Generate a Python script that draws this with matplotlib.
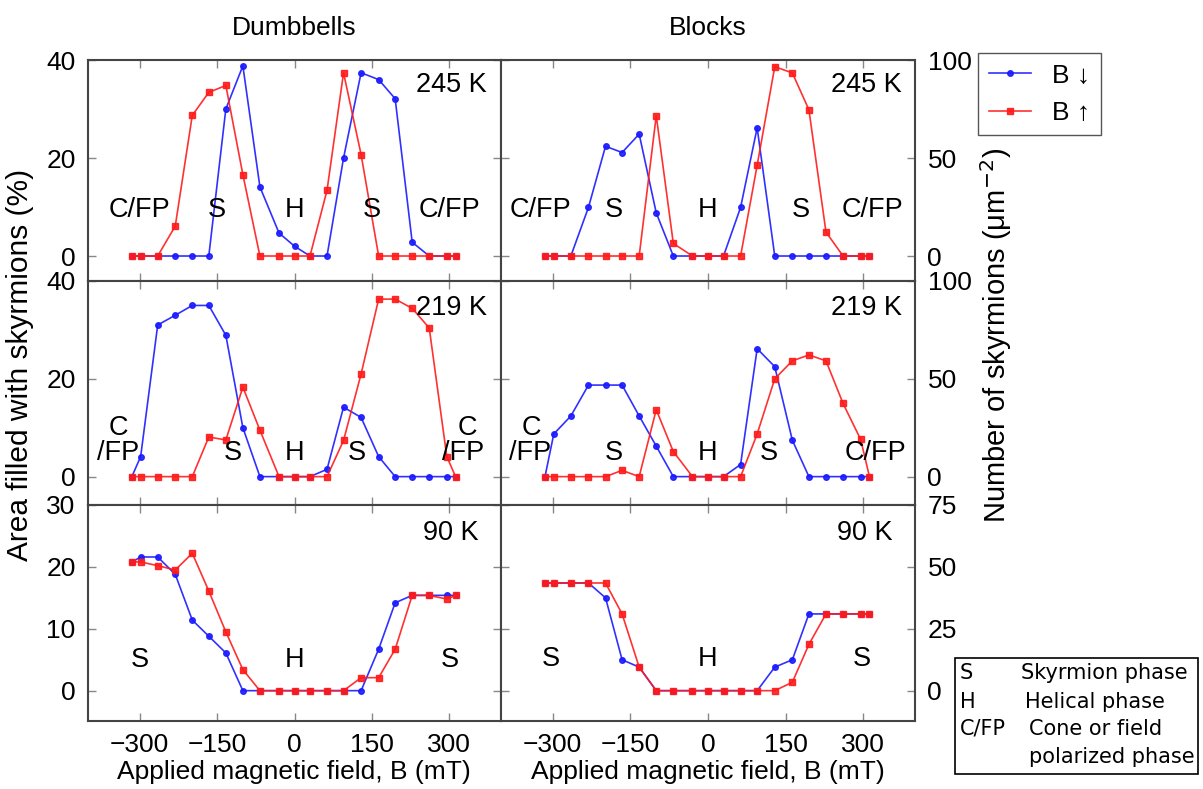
import matplotlib
matplotlib.use("Agg")
import matplotlib.pyplot as plt
from matplotlib.patches import Rectangle

plt.rcParams['font.family'] = ['Liberation Sans', 'DejaVu Sans']
plt.rcParams['font.size'] = 19

# applied field (mT)
field = [-315, -298, -265, -231, -198, -166, -133, -100, -67, -30, 0,
         30, 63, 95, 129, 163, 195, 228, 261, 295, 312]

# Dumbbells, area filled (%)
dumb_245_down = [0, 0, 0, 0, 0, 0, 30.0, 38.8, 14.1, 4.7, 2.0, 0, 0, 20.0, 37.4, 36.0, 32.1, 2.8, 0, 0, 0]
dumb_245_up = [0, 0, 0, 6.1, 28.7, 33.4, 34.8, 16.6, 0, 0, 0, 0, 13.4, 37.4, 20.7, 0, 0, 0, 0, 0, 0]
dumb_219_down = [0, 4.1, 31.0, 33.0, 35.0, 35.0, 28.9, 10.0, 0, 0, 0, 0, 1.5, 14.2, 12.1, 4.1, 0, 0, 0, 0, 0]
dumb_219_up = [0, 0, 0, 0, 0, 8.1, 7.5, 18.3, 9.5, 0, 0, 0, 0, 7.4, 21.0, 36.3, 36.3, 34.4, 30.4, 4.1, 0]
dumb_90_down = [20.8, 21.6, 21.6, 18.8, 11.4, 8.8, 6.1, 0, 0, 0, 0, 0, 0, 0, 0, 6.7, 14.2, 15.4, 15.4, 15.4, 15.4]
dumb_90_up = [20.8, 20.8, 20.2, 19.5, 22.2, 16.1, 9.5, 3.4, 0, 0, 0, 0, 0, 0, 2.1, 2.1, 6.7, 15.4, 15.4, 14.8, 15.4]

# Blocks, number of skyrmions (um^-2)
blocks_245_down = [0, 0, 0, 24.8, 56.0, 52.8, 62.2, 22.0, 0, 0, 0, 0, 24.8, 65.4, 0, 0, 0, 0, 0, 0, 0]
blocks_245_up = [0, 0, 0, 0, 0, 0, 0, 71.6, 6.4, 0, 0, 0, 0, 46.3, 96.6, 93.4, 74.6, 12.2, 0, 0, 0]
blocks_219_down = [0, 21.8, 31.0, 46.8, 46.8, 46.8, 31.0, 15.6, 0, 0, 0, 0, 6.2, 65.4, 56.2, 18.6, 0, 0, 0, 0, 0]
blocks_219_up = [0, 0, 0, 0, 0, 3.2, 0, 34.2, 12.8, 0, 0, 0, 0, 21.8, 50.0, 59.2, 62.2, 59.2, 37.4, 19.0, 0]
blocks_90_down = [43.5, 43.5, 43.5, 43.5, 37.5, 12.5, 9.5, 0, 0, 0, 0, 0, 0, 0, 9.5, 12.5, 31.0, 31.0, 31.0, 31.0, 31.0]
blocks_90_up = [43.5, 43.5, 43.5, 43.5, 43.5, 31.0, 9.5, 0, 0, 0, 0, 0, 0, 0, 0, 3.4, 18.7, 31.0, 31.0, 31.0, 31.0]

temps = ['245 K', '219 K', '90 K']
xticks = [-300, -150, 0, 150, 300]

W, H = 1203, 789


def box(x0, y0, x1, y1):
    return [x0 / W, 1 - y1 / H, (x1 - x0) / W, (y1 - y0) / H]


rows = [(60, 281), (281, 505), (505, 721)]
cols = [(88, 501), (501, 915)]

series = [
    [(dumb_245_down, dumb_245_up), (blocks_245_down, blocks_245_up)],
    [(dumb_219_down, dumb_219_up), (blocks_219_down, blocks_219_up)],
    [(dumb_90_down, dumb_90_up), (blocks_90_down, blocks_90_up)],
]
ylims = [(-5.1, 40), (-5.8, 40), (-4.9, 30)]
yticks_left = [[0, 20, 40], [0, 20, 40], [0, 10, 20, 30]]
yticks_right = [[0, 50, 100], [0, 50, 100], [0, 25, 50, 75]]
temp_pos = [[(0.966, 0.887), (0.968, 0.887)],
            [(0.966, 0.879), (0.968, 0.879)],
            [(0.947, 0.87), (0.947, 0.87)]]

# phase labels (x, y in data units of each panel)
phase_labels = [
    [[(-300, 9.3, 'C/FP'), (-150, 9.3, 'S'), (0, 9.3, 'H'), (150, 9.3, 'S'), (300, 9.3, 'C/FP')],
     [(-323, 23.5, 'C/FP'), (-182, 23.5, 'S'), (0, 23.5, 'H'), (179, 23.5, 'S'), (317, 23.5, 'C/FP')]],
    [[(-341, 9.9, 'C'), (-341, 4.8, '/FP'), (-120, 4.8, 'S'), (0, 4.8, 'H'), (121, 4.8, 'S'),
      (334, 9.9, 'C'), (327, 4.8, '/FP')],
     [(-341, 24.7, 'C'), (-343, 12.0, '/FP'), (-182, 12.0, 'S'), (0, 12.0, 'H'), (117, 12.0, 'S'),
      (323, 12.0, 'C/FP')]],
    [[(-300, 4.9, 'S'), (0, 4.9, 'H'), (300, 4.9, 'S')],
     [(-303, 12.8, 'S'), (0, 12.8, 'H'), (297, 12.8, 'S')]],
]

fig = plt.figure(figsize=(W / 100, H / 100), dpi=100)

for r, (y0, y1) in enumerate(rows):
    for c, (x0, x1) in enumerate(cols):
        ax = fig.add_axes(box(x0, y0, x1, y1))
        down, up = series[r][c]
        l1, = ax.plot(field, down, color='#1a1aff', marker='o', ms=4, lw=1.2, alpha=0.9)
        l2, = ax.plot(field, up, color='#ff1a1a', marker='s', ms=4.5, lw=1.2, alpha=0.9)
        ax.set_xlim(-400, 400)
        ax.set_xticks(xticks)
        lo, hi = ylims[r]
        if c == 0:
            ax.set_ylim(lo, hi)
            ax.set_yticks(yticks_left[r])
        else:
            ax.set_ylim(lo * 2.5, hi * 2.5)
            ax.set_yticks(yticks_right[r])
        ax.tick_params(direction='in', top=True, bottom=True, left=True, right=True,
                       length=6, width=1, color='#888', pad=9,
                       labelbottom=(r == 2), labelleft=(c == 0), labelright=(c == 1))
        for s in ax.spines.values():
            s.set_color('#444')
            s.set_linewidth(1.5)
        tx, ty = temp_pos[r][c]
        ax.text(tx, ty, temps[r], transform=ax.transAxes, ha='right', va='center', fontsize=19.5)
        for px, py, lab in phase_labels[r][c]:
            ax.text(px, py, lab, ha='center', va='center', fontsize=19.5)

fig.text(294 / W, 1 - 28 / H, 'Dumbbells', ha='center', va='center', fontsize=19)
fig.text(708 / W, 1 - 28 / H, 'Blocks', ha='center', va='center', fontsize=19)
fig.text(294 / W, 1 - 772 / H, 'Applied magnetic field, B (mT)', ha='center', va='center', fontsize=19)
fig.text(708 / W, 1 - 772 / H, 'Applied magnetic field, B (mT)', ha='center', va='center', fontsize=19)
fig.text(20 / W, 1 - 365 / H, 'Area filled with skyrmions (%)', rotation=90,
         ha='center', va='center', fontsize=21.5)
fig.text(996 / W, 1 - 335 / H, 'Number of skyrmions (\u03bcm$^{\u22122}$)', rotation=90,
         ha='center', va='center', fontsize=21)

fig.legend([l1, l2], ['B \u2193', 'B \u2191'], loc='upper left',
           bbox_to_anchor=(978 / W, 1 - 53 / H), borderaxespad=0, fancybox=False,
           edgecolor='#555', framealpha=1, handlelength=1.6, fontsize=19)

# phase key box
fig.patches.append(Rectangle((955 / W, 1 - 774 / H), 243 / W, 116 / H, transform=fig.transFigure,
                             fill=False, edgecolor='black', linewidth=1.2))
key_font = dict(family='DejaVu Sans', fontsize=15, va='center', ha='left')
key_rows = [(673, 'S', 1021, 'Skyrmion phase'), (702, 'H', 1025, 'Helical phase'),
            (729, 'C/FP', 1029, 'Cone or field'), (757, '', 1029, 'polarized phase')]
for ky, k, dx, desc in key_rows:
    fig.text(960 / W, 1 - ky / H, k, **key_font)
    fig.text(dx / W, 1 - ky / H, desc, **key_font)

fig.savefig('out.png', dpi=100)
